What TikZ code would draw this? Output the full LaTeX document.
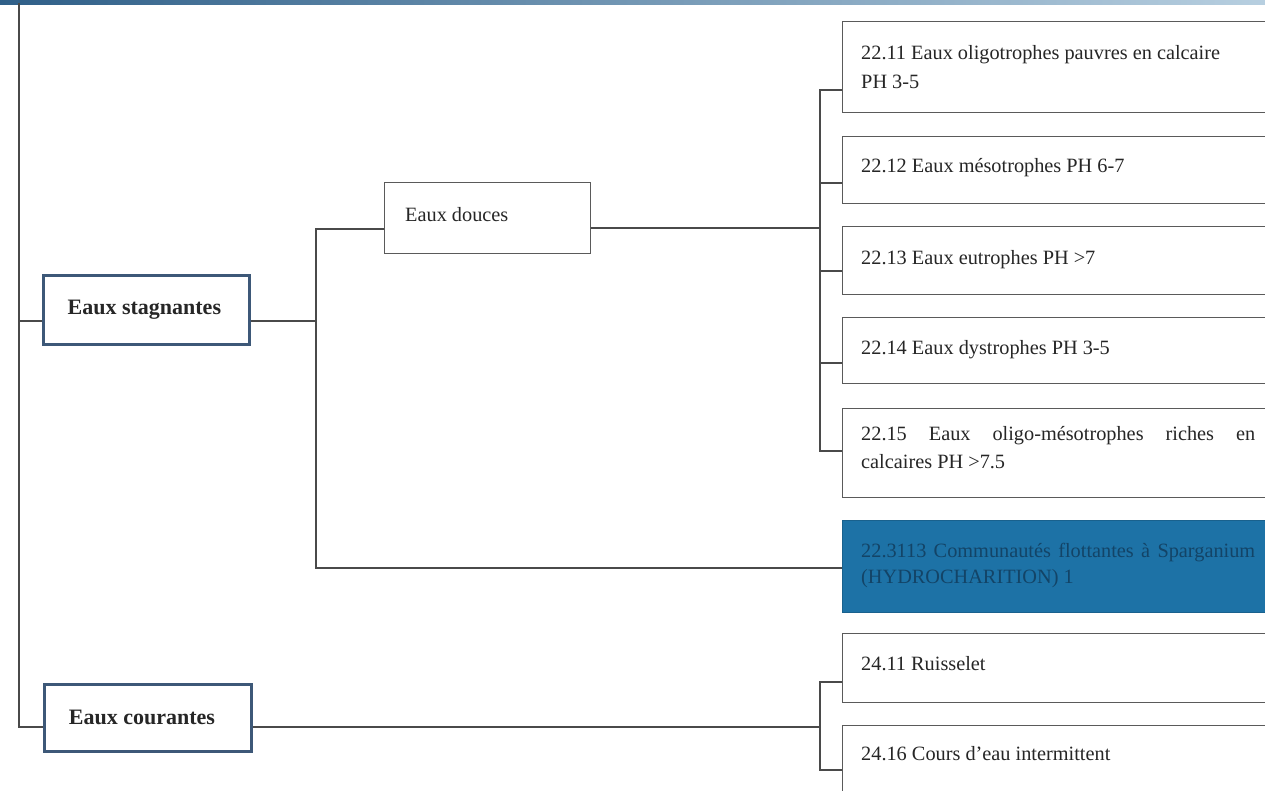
\documentclass[tikz,border=0pt]{standalone}
\usepackage{fontspec}
\setmainfont{Liberation Serif}
\usetikzlibrary{calc}
\definecolor{linegray}{HTML}{4A4A4A}
\definecolor{catblue}{HTML}{3D5878}
\definecolor{boxgray}{HTML}{5A5A5A}
\definecolor{inkgray}{HTML}{262626}
\definecolor{bandleft}{HTML}{2F5F88}
\definecolor{bandright}{HTML}{B7CFE0}
\definecolor{seablue}{HTML}{1D72A6}
\definecolor{seaink}{HTML}{134467}
\begin{document}
\begin{tikzpicture}[x=1pt,y=-1pt,
  conn/.style={draw=linegray,line width=1.4pt},
  catbox/.style={draw=catblue,line width=2.8pt,fill=white,anchor=north west,inner sep=0pt,
     minimum width=206pt,minimum height=69pt,font=\fontsize{22}{26}\selectfont\bfseries,text=inkgray},
  subbox/.style={draw=boxgray,line width=1.3pt,fill=white,anchor=north west,inner sep=0pt,minimum width=450pt},
  txt/.style={anchor=base west,inner sep=0pt,font=\fontsize{20.3}{27}\selectfont,text=inkgray},
]
\useasboundingbox (0,0) rectangle (1265,790);
\clip (0,0) rectangle (1265,790);
\fill[white] (0,0) rectangle (1265,790);
\shade[left color=bandleft,right color=bandright] (0,0) rectangle (1265,4);

% top-level categories
\node[catbox] (stag) at (42,274) {\hspace*{-4pt}Eaux stagnantes};
\node[catbox,minimum width=207pt,minimum height=67pt] (cour) at (43,683) {\hspace*{-12pt}Eaux courantes};

% intermediate level
\node[subbox,minimum width=206pt,minimum height=71pt] (dou) at (384,182) {};
\node[txt] at ($(dou.north west)+(21,39)$) {Eaux douces};

% habitat boxes (running off the right edge)
\node[subbox,minimum height=91pt] (b1) at (842,21) {};
\node[subbox,minimum height=67pt] (b2) at (842,136) {};
\node[subbox,minimum height=68pt] (b3) at (842,226) {};
\node[subbox,minimum height=66pt] (b4) at (842,317) {};
\node[subbox,minimum height=89pt] (b5) at (842,408) {};
\node[subbox,draw=seablue!85!black,fill=seablue,minimum height=92pt] (bb) at (842,520) {};
\node[subbox,minimum height=69pt] (r1) at (842,633) {};
\node[subbox,minimum height=80pt] (r2) at (842,725) {};

\node[txt] at ($(b1.north west)+(19,38)$) {22.11 Eaux oligotrophes pauvres en calcaire};
\node[txt] at ($(b1.north west)+(19,67)$) {PH 3-5};
\node[txt] at ($(b2.north west)+(19,36)$) {22.12 Eaux mésotrophes PH 6-7};
\node[txt] at ($(b3.north west)+(19,38)$) {22.13 Eaux eutrophes PH >7};
\node[txt] at ($(b4.north west)+(19,37)$) {22.14 Eaux dystrophes PH 3-5};
\node[txt] at ($(b5.north west)+(19,32)$) {\makebox[394pt][s]{22.15 Eaux oligo-mésotrophes riches en}};
\node[txt] at ($(b5.north west)+(19,60)$) {calcaires PH >7.5};
\node[txt,text=seaink] at ($(bb.north west)+(19,37)$) {\makebox[394pt][s]{22.3113 Communautés flottantes à Sparganium}};
\node[txt,text=seaink] at ($(bb.north west)+(19,63)$) {(HYDROCHARITION) 1};
\node[txt] at ($(r1.north west)+(19,37)$) {24.11 Ruisselet};
\node[txt] at ($(r2.north west)+(19,35)$) {24.16 Cours d’eau intermittent};

% attachment points and branch lines
\coordinate (trunk) at (19,3);
\coordinate (split1) at (316,0);
\coordinate (split2) at (820,0);
\coordinate (stagL) at ($(stag.north west)+(0,47)$);
\coordinate (stagR) at ($(stag.north east)+(0,47)$);
\coordinate (courL) at ($(cour.north west)+(0,44)$);
\coordinate (courR) at ($(cour.north east)+(0,44)$);
\coordinate (douL) at ($(dou.north west)+(0,47)$);
\coordinate (douR) at ($(dou.north east)+(0,46)$);
\coordinate (bbL) at ($(bb.north west)+(0,48)$);
\coordinate (b1L) at ($(b1.north west)+(0,69)$);
\coordinate (b2L) at ($(b2.north west)+(0,47)$);
\coordinate (b3L) at ($(b3.north west)+(0,45)$);
\coordinate (b4L) at ($(b4.north west)+(0,46)$);
\coordinate (b5L) at ($(b5.north west)+(0,43)$);
\coordinate (r1L) at ($(r1.north west)+(0,49)$);
\coordinate (r2L) at ($(r2.north west)+(0,45)$);

\draw[conn] (trunk) |- (courL);
\draw[conn] (stagL) -- (stagL -| trunk);
\draw[conn] (stagR) -- (stagR -| split1);
\draw[conn] (douL) -- (douL -| split1) -- (bbL -| split1) -- (bbL);
\draw[conn] (douR) -- (douR -| split2);
\draw[conn] (b1L) -- (b1L -| split2) -- (b5L -| split2) -- (b5L);
\draw[conn] (b2L) -- (b2L -| split2);
\draw[conn] (b3L) -- (b3L -| split2);
\draw[conn] (b4L) -- (b4L -| split2);
\draw[conn] (courR) -- (courR -| split2);
\draw[conn] (r1L) -- (r1L -| split2) -- (r2L -| split2) -- (r2L);
\end{tikzpicture}
\end{document}
